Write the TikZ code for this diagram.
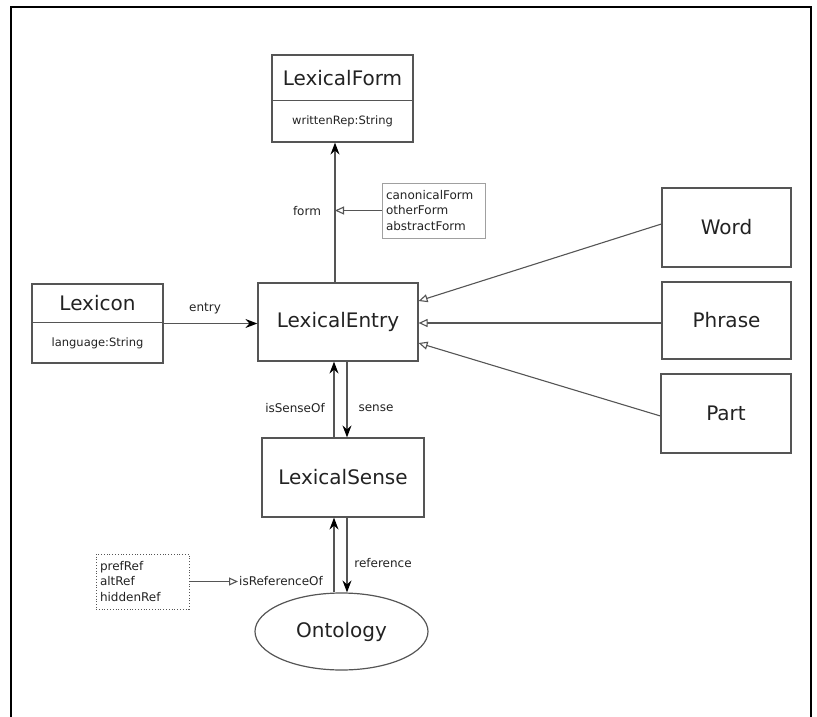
\documentclass[tikz,border=0pt]{standalone}
\usepackage{fontspec}
\setmainfont{DejaVu Sans}
\usetikzlibrary{arrows.meta,shapes.geometric,calc}
\definecolor{edge}{HTML}{555555}
\definecolor{txt}{HTML}{222222}
\definecolor{light}{HTML}{A0A0A0}
\begin{document}
\begin{tikzpicture}[x=1pt,y=-1pt,
  box/.style={draw=edge,line width=1.2pt,rectangle,inner sep=0pt,text=txt,font=\fontsize{20}{24}\selectfont},
  attr/.style={inner sep=0pt,text=txt,font=\fontsize{11.5}{14}\selectfont},
  lbl/.style={inner sep=1pt,text=txt,font=\fontsize{12}{14}\selectfont},
  note/.style={draw=light,line width=0.8pt,rectangle,inner sep=0pt,text=txt,align=left,font=\fontsize{12}{15.3}\selectfont},
  fa/.style={draw=edge,line width=1.2pt,-{Stealth[length=12pt,width=9pt,inset=4pt,black]}},
  oa/.style={draw=edge,line width=1.1pt,-{Triangle[open,length=9pt,width=8pt,fill=white]}}
]
\useasboundingbox (0,0) rectangle (817,717);
\draw[black,line width=2.2pt] (11,717) -- (11,7) -- (811,7) -- (811,717);

% classes
\node[box,minimum width=141pt,minimum height=87pt] (lf) at (342.5,98.5) {};
\draw[edge,line width=0.9pt] ($(lf.north west)+(0,46)$) -- ($(lf.north east)+(0,46)$);
\node[box,draw=none] (lft) at (342.5,78) {LexicalForm};
\node[attr] (lfa) at (342.5,121) {writtenRep:String};

\node[box,minimum width=131pt,minimum height=79pt] (lex) at (97.5,323.5) {};
\draw[edge,line width=1.2pt] ($(lex.north west)+(0,39)$) -- ($(lex.north east)+(0,39)$);
\node[box,draw=none] (lext) at (97.5,303.5) {Lexicon};
\node[attr] (lexa) at (97.5,343) {language:String};

\node[box,minimum width=160pt,minimum height=78pt] (le) at (338,322) {LexicalEntry};
\node[box,minimum width=162pt,minimum height=79pt] (ls) at (343,477.5) {LexicalSense};
\node[box,ellipse,minimum width=173pt,minimum height=77pt] (ont) at (341.5,631.5) {Ontology};

\node[box,minimum width=129pt,minimum height=79pt] (word) at (726.5,227.5) {Word};
\node[box,minimum width=129pt,minimum height=77pt] (phrase) at (726.5,320.5) {Phrase};
\node[box,minimum width=130pt,minimum height=79pt] (part) at (726,413.5) {Part};

% notes
\node[note,minimum width=103pt,minimum height=55pt,text width=95pt] (cf) at (433.5,210.5) {canonicalForm\\otherForm\\abstractForm};
\node[note,dotted,draw=edge,minimum width=93pt,minimum height=55pt,text width=85pt] (pr) at (142.5,581.5) {prefRef\\altRef\\hiddenRef};

% labels
\node[lbl] (lform) at (307,211) {form};
\node[lbl] (lentry) at (205,309) {entry};
\node[lbl] (liso) at (295,408) {isSenseOf};
\node[lbl] (lsense) at (376,408) {sense};
\node[lbl] (lref) at (383,563) {reference};
\node[lbl,anchor=west] (liro) at (238,581.5) {isReferenceOf};

% connectors
\coordinate (formx) at ([xshift=-3pt]le.north);
\draw[fa] (formx) -- (formx |- lf.south);
\draw[oa] (cf.west) -- (cf.west -| formx);
\draw[fa] (lex.east) -- (lex.east -| le.west);
\draw[fa] ([xshift=-9pt]ls.north) -- ([xshift=-9pt]ls.north |- le.south);
\draw[fa] ([xshift=4pt]ls.north |- le.south) -- ([xshift=4pt]ls.north);
\draw[fa] ([xshift=-9pt]ls.south |- ont.north) -- ([xshift=-9pt]ls.south);
\draw[fa] ([xshift=4pt]ls.south) -- ([xshift=4pt]ls.south |- ont.north);
\draw[oa] (pr.east) -- (pr.east -| liro.west);
\draw[oa] ([yshift=3.5pt]word.west) -- ([yshift=21pt]le.east);
\draw[oa] ([yshift=-2.5pt]phrase.west) -- ([yshift=-2.5pt]phrase.west -| le.east);
\draw[oa] ([yshift=-2.5pt]part.west) -- ([yshift=-21pt]le.east);
\end{tikzpicture}
\end{document}
